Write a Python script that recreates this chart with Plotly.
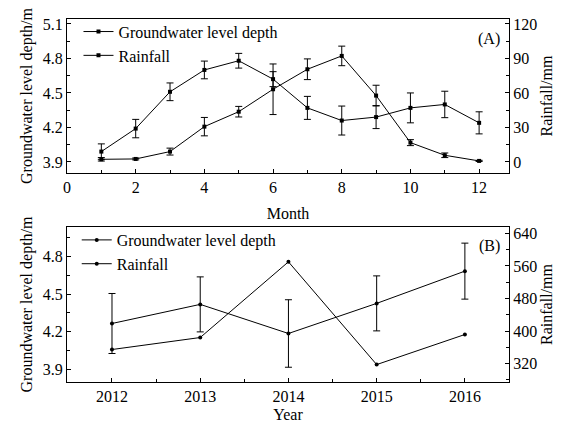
import plotly.graph_objects as go

# ---- Panel A: monthly data ----
months = [1, 2, 3, 4, 5, 6, 7, 8, 9, 10, 11, 12]
gw_month = [3.99, 4.19, 4.51, 4.70, 4.78, 4.62, 4.37, 4.26, 4.29, 4.37, 4.40, 4.24]
gw_month_err = [0.067, 0.08, 0.077, 0.077, 0.064, 0.065, 0.10, 0.126, 0.10, 0.13, 0.115, 0.096]
rain_month = [2.3, 2.6, 9.0, 30.7, 43.7, 63.2, 80.6, 92.2, 57.7, 16.8, 5.8, 0.9]
rain_month_err = [1.5, 0.8, 3.0, 8.0, 4.6, 22.0, 9.0, 8.5, 9.0, 2.6, 2.0, 0.5]

# ---- Panel B: annual data ----
years = [2012, 2013, 2014, 2015, 2016]
gw_year = [4.266, 4.419, 4.186, 4.427, 4.685]
gw_year_err = [0.24, 0.22, 0.27, 0.22, 0.224]
rain_year = [354.5, 384.0, 570.0, 317.5, 391.4]

FONT = "Liberation Serif"
BLACK = "#000000"

fig = go.Figure()

errstyle = dict(type="data", color=BLACK, thickness=1, width=3.5, visible=True)

fig.add_trace(go.Scatter(
    x=months, y=gw_month, name="Groundwater level depth", mode="lines+markers",
    line=dict(color=BLACK, width=1), marker=dict(symbol="square", size=4, color=BLACK),
    error_y=dict(array=gw_month_err, **errstyle), xaxis="x", yaxis="y", legend="legend"))
fig.add_trace(go.Scatter(
    x=months, y=rain_month, name="Rainfall", mode="lines+markers",
    line=dict(color=BLACK, width=1), marker=dict(symbol="square", size=4, color=BLACK),
    error_y=dict(array=rain_month_err, **errstyle), xaxis="x", yaxis="y2", legend="legend"))

fig.add_trace(go.Scatter(
    x=years, y=gw_year, name="Groundwater level depth", mode="lines+markers",
    line=dict(color=BLACK, width=1), marker=dict(symbol="circle", size=4, color=BLACK),
    error_y=dict(array=gw_year_err, **errstyle), xaxis="x2", yaxis="y3", legend="legend2"))
fig.add_trace(go.Scatter(
    x=years, y=rain_year, name="Rainfall", mode="lines+markers",
    line=dict(color=BLACK, width=1), marker=dict(symbol="circle", size=4, color=BLACK),
    xaxis="x2", yaxis="y4", legend="legend2"))

tickfont = dict(family=FONT, size=16, color=BLACK)
titlefont = dict(family=FONT, size=16, color=BLACK)

def ax(**kw):
    base = dict(showline=True, linecolor=BLACK, linewidth=1, ticks="inside", ticklen=4,
                tickcolor=BLACK, tickwidth=1, showgrid=False, zeroline=False,
                tickfont=tickfont, title_font=titlefont, automargin=False)
    base.update(kw)
    return base

minor_style = dict(ticks="inside", ticklen=3, tickcolor=BLACK)

dA = [0.5758, 1.0]
dB = [0.0, 0.427]

fig.update_layout(
    width=565, height=423,
    margin=dict(l=67, r=56, t=19, b=41),
    paper_bgcolor="white", plot_bgcolor="white",
    font=dict(family=FONT, size=16, color=BLACK),
    xaxis=ax(domain=[0, 1], anchor="y", range=[0, 12.87], dtick=2, tick0=0, mirror=True,
             minor=dict(dtick=1, **minor_style),
             title=dict(text="Month", standoff=12)),
    yaxis=ax(domain=dA, anchor="x", range=[3.804, 5.143], dtick=0.3, tick0=3.9, tickformat=".1f",
             minor=dict(dtick=0.15, tick0=3.9, **minor_style),
             title=dict(text="Groundwater level depth/m", standoff=6)),
    yaxis2=ax(domain=dA, anchor="x", overlaying="y", side="right", range=[-9.6, 124.3],
              dtick=30, tick0=0,
              minor=dict(dtick=15, tick0=0, **minor_style),
              title=dict(text="Rainfall/mm", standoff=4)),
    xaxis2=ax(domain=[0, 1], anchor="y3", range=[2011.49, 2016.5], dtick=1, tick0=2012, mirror=True,
              minor=dict(dtick=0.5, tick0=2011.5, **minor_style),
              title=dict(text="Year", standoff=10)),
    yaxis3=ax(domain=dB, anchor="x2", range=[3.798, 5.038], dtick=0.3, tick0=3.9, tickformat=".1f",
              minor=dict(dtick=0.15, tick0=3.9, **minor_style),
              title=dict(text="Groundwater level depth/m", standoff=6)),
    yaxis4=ax(domain=dB, anchor="x2", overlaying="y3", side="right", range=[274.7, 655.6],
              dtick=80, tick0=320,
              minor=dict(dtick=40, tick0=320, **minor_style),
              title=dict(text="Rainfall/mm", standoff=4)),
    legend=dict(x=0.026, y=1.012, xanchor="left", yanchor="top", bgcolor="rgba(0,0,0,0)",
                font=dict(family=FONT, size=16, color=BLACK), tracegroupgap=0, itemwidth=30),
    legend2=dict(x=0.022, y=0.438, xanchor="left", yanchor="top", bgcolor="rgba(0,0,0,0)",
                 font=dict(family=FONT, size=16, color=BLACK), tracegroupgap=0, itemwidth=30),
    showlegend=True,
    annotations=[
        dict(text="(A)", x=0.985, y=0.945, xref="paper", yref="paper", xanchor="right",
             yanchor="middle", showarrow=False, font=dict(family=FONT, size=16, color=BLACK)),
        dict(text="(B)", x=0.985, y=0.375, xref="paper", yref="paper", xanchor="right",
             yanchor="middle", showarrow=False, font=dict(family=FONT, size=16, color=BLACK)),
    ],
)

fig.write_html("out.html")
